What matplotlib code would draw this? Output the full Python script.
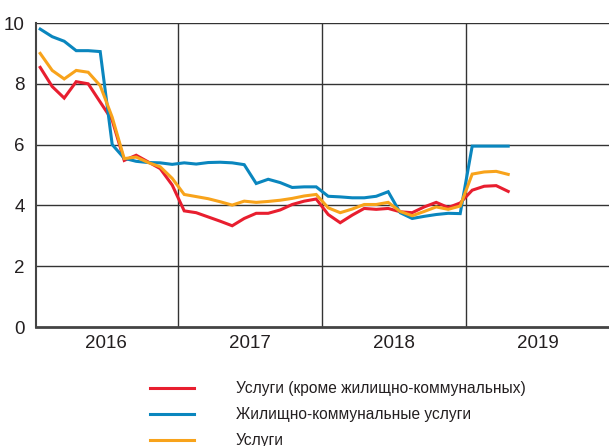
import matplotlib
matplotlib.use('Agg')
import matplotlib.pyplot as plt

plt.rcParams['font.family'] = ['Liberation Sans', 'DejaVu Sans']

# monthly values, Jan 2016 .. Apr 2019
services_ex_housing = [8.54, 7.91, 7.53, 8.07, 8.0, 7.4, 6.8, 5.48, 5.65, 5.43, 5.21, 4.67,
                       3.82, 3.76, 3.62, 3.48, 3.33, 3.57, 3.74, 3.74, 3.85, 4.03, 4.14, 4.21,
                       3.70, 3.43, 3.68, 3.90, 3.87, 3.90, 3.79, 3.76, 3.95, 4.10, 3.93, 4.08,
                       4.50, 4.63, 4.65, 4.46]
housing_utilities = [9.8, 9.55, 9.4, 9.09, 9.09, 9.06, 6.0, 5.55, 5.45, 5.41, 5.40, 5.35,
                     5.40, 5.36, 5.41, 5.42, 5.40, 5.34, 4.72, 4.86, 4.75, 4.59, 4.61, 4.61,
                     4.30, 4.28, 4.25, 4.25, 4.30, 4.45, 3.76, 3.57, 3.64, 3.70, 3.74, 3.73,
                     5.95, 5.95, 5.95, 5.95]
services = [9.0, 8.44, 8.16, 8.44, 8.38, 7.94, 6.9, 5.54, 5.59, 5.41, 5.27, 4.89,
            4.36, 4.29, 4.22, 4.12, 4.01, 4.14, 4.10, 4.13, 4.17, 4.23, 4.31, 4.36,
            3.92, 3.76, 3.88, 4.03, 4.03, 4.10, 3.80, 3.66, 3.80, 3.95, 3.87, 3.98,
            5.03, 5.10, 5.12, 5.02]
years = ['2016', '2017', '2018', '2019']
labels = ['Услуги (кроме жилищно-коммунальных)', 'Жилищно-коммунальные услуги', 'Услуги']
colors = ['#e81e2f', '#0a86be', '#f8a31b']

fig = plt.figure(figsize=(6.09, 4.46), dpi=100)
ax = fig.add_axes([36 / 609, 1 - 327 / 446, 573 / 609, 304 / 446])

months = list(range(len(services)))
handles = []
for vals, c, lab in zip([services_ex_housing, housing_utilities, services], colors, labels):
    h, = ax.plot(months, vals, color=c, lw=2.2, label=lab, zorder=3, solid_joinstyle='miter')
    handles.append(h)

ax.set_xlim(-0.35, 47.4)
ax.set_ylim(0, 10)
ax.set_yticks([0, 2, 4, 6, 8, 10])
ax.set_xticks([5.5, 17.5, 29.5, 41.5])
ax.set_xticklabels(years)
ax.tick_params(axis='both', length=0, labelsize=13.5, colors='#231f20')
ax.tick_params(axis='y', pad=8)
ax.tick_params(axis='x', pad=6)

for y in [2, 4, 6, 8, 10]:
    ax.axhline(y, color='#333333', lw=1.0, zorder=1)
for x in [11.5, 23.5, 35.5]:
    ax.axvline(x, color='#333333', lw=1.0, zorder=1)

for s in ['top', 'right']:
    ax.spines[s].set_visible(False)
ax.spines['left'].set_color('#444444')
ax.spines['left'].set_linewidth(1.5)
ax.spines['bottom'].set_color('#444444')
ax.spines['bottom'].set_linewidth(2)

leg = fig.legend(handles=handles, loc='upper left', bbox_to_anchor=(150 / 609, 1 - 381 / 446),
                 frameon=False, fontsize=11.2, handlelength=2.8, handletextpad=2.7,
                 labelspacing=0.72, borderpad=0, borderaxespad=0)
for t in leg.get_texts():
    t.set_color('#231f20')

fig.savefig('out.png', dpi=100)
